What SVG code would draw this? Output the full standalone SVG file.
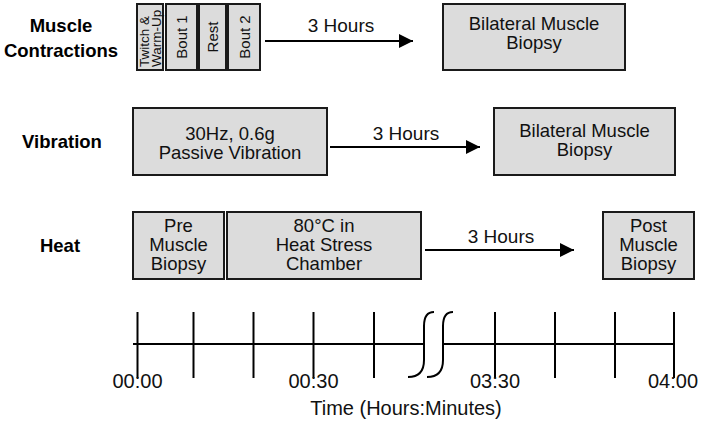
<svg xmlns="http://www.w3.org/2000/svg" width="704" height="425" viewBox="0 0 704 425">
<defs>
<style>
.box{fill:#dcdcdc;stroke:#1a1a1a;stroke-width:2}
.t{font-family:"Liberation Sans",Arial,sans-serif;font-size:19px;fill:#111;text-anchor:middle}
.t3{font-family:"Liberation Sans",Arial,sans-serif;font-size:18.5px;fill:#111;text-anchor:middle}
.r{font-family:"Liberation Sans",Arial,sans-serif;font-size:15px;fill:#111;text-anchor:middle}
.lab{font-family:"Liberation Sans",Arial,sans-serif;font-size:18.5px;font-weight:bold;fill:#000;text-anchor:middle}
.ax{font-family:"Liberation Sans",Arial,sans-serif;font-size:20px;fill:#111;text-anchor:middle}
.ln{stroke:#000;stroke-width:2;fill:none}
</style>
<marker id="ah" viewBox="0 0 10 10" refX="10" refY="5" markerWidth="8" markerHeight="7" markerUnits="strokeWidth" orient="auto">
<path d="M0,0 L10,5 L0,10 Z" fill="#000"/>
</marker>
</defs>
<rect width="704" height="425" fill="#fff"/>

<g id="labels">
<text class="lab" x="61" y="32">Muscle</text>
<text class="lab" x="61" y="57">Contractions</text>
<text class="lab" x="62" y="148">Vibration</text>
<text class="lab" x="60" y="252">Heat</text>
</g>

<g id="twitch">
<rect class="box" x="137" y="4" width="26" height="66"/>
<text class="r" style="text-anchor:start;font-size:13.5px" transform="translate(149,67) rotate(-90)">Twitch &amp;</text>
<text class="r" style="text-anchor:start;font-size:13.5px" transform="translate(160.5,67) rotate(-90)">Warm-Up</text>
</g>
<g id="bout1">
<rect class="box" x="166" y="4" width="31" height="66"/>
<text class="r" transform="translate(187,37) rotate(-90)">Bout 1</text>
</g>
<g id="rest">
<rect class="box" x="199" y="4" width="27" height="66"/>
<text class="r" transform="translate(218,37) rotate(-90)">Rest</text>
</g>
<g id="bout2">
<rect class="box" x="228" y="4" width="32" height="66"/>
<text class="r" transform="translate(249.5,37) rotate(-90)">Bout 2</text>
</g>
<g id="biopsy1">
<rect class="box" x="443" y="4" width="182" height="66"/>
<text class="t3" x="534" y="30">Bilateral Muscle</text>
<text class="t3" x="534" y="49">Biopsy</text>
</g>

<g id="vibration">
<rect class="box" x="133" y="108" width="194" height="67"/>
<text class="t3" x="230" y="139.5">30Hz, 0.6g</text>
<text class="t3" x="230" y="158.5">Passive Vibration</text>
</g>
<g id="biopsy2">
<rect class="box" x="494" y="108" width="181" height="67"/>
<text class="t3" x="584.5" y="137">Bilateral Muscle</text>
<text class="t3" x="584.5" y="156">Biopsy</text>
</g>

<g id="pre">
<rect class="box" x="133" y="212" width="91" height="67"/>
<text class="t3" x="178.5" y="231.5">Pre</text>
<text class="t3" x="178.5" y="250.5">Muscle</text>
<text class="t3" x="178.5" y="269.5">Biopsy</text>
</g>
<g id="heatstress">
<rect class="box" x="227" y="212" width="194" height="67"/>
<text class="t3" x="324" y="231.5">80°C in</text>
<text class="t3" x="324" y="250.5">Heat Stress</text>
<text class="t3" x="324" y="269.5">Chamber</text>
</g>
<g id="post">
<rect class="box" x="603" y="212" width="91" height="67"/>
<text class="t3" x="648.5" y="231.5">Post</text>
<text class="t3" x="648.5" y="250.5">Muscle</text>
<text class="t3" x="648.5" y="269.5">Biopsy</text>
</g>

<g id="connectors">
<line class="ln" x1="265" y1="41" x2="413" y2="41" marker-end="url(#ah)"/>
<text class="t" x="341" y="32">3 Hours</text>
<line class="ln" x1="330" y1="147" x2="480" y2="147" marker-end="url(#ah)"/>
<text class="t" x="406" y="140">3 Hours</text>
<line class="ln" x1="425" y1="250" x2="574" y2="250" marker-end="url(#ah)"/>
<text class="t" x="501" y="243">3 Hours</text>
</g>

<g id="timeline">
<line class="ln" x1="133" y1="344" x2="424" y2="344"/>
<line class="ln" x1="443" y1="344" x2="675" y2="344"/>
<g class="ln">
<line x1="137.5" y1="312" x2="137.5" y2="378"/>
<line x1="193.5" y1="312" x2="193.5" y2="378"/>
<line x1="253.5" y1="312" x2="253.5" y2="378"/>
<line x1="313.5" y1="312" x2="313.5" y2="378"/>
<line x1="374" y1="312" x2="374" y2="378"/>
<line x1="495" y1="312" x2="495" y2="378"/>
<line x1="555" y1="312" x2="555" y2="378"/>
<line x1="615" y1="312" x2="615" y2="378"/>
<line x1="674" y1="312" x2="674" y2="378"/>
</g>
<path class="ln" d="M408 377 C418 377 424 372 424 360 L424 326 C424 316 428 312 434 312"/>
<path class="ln" d="M427 377 C437 377 443 372 443 360 L443 326 C443 316 447 312 453 312"/>
<text class="ax" x="137.5" y="388">00:00</text>
<text class="ax" x="313.5" y="388">00:30</text>
<text class="ax" x="495" y="388">03:30</text>
<text class="ax" x="673" y="388">04:00</text>
<text class="ax" x="406" y="415">Time (Hours:Minutes)</text>
</g>
</svg>
